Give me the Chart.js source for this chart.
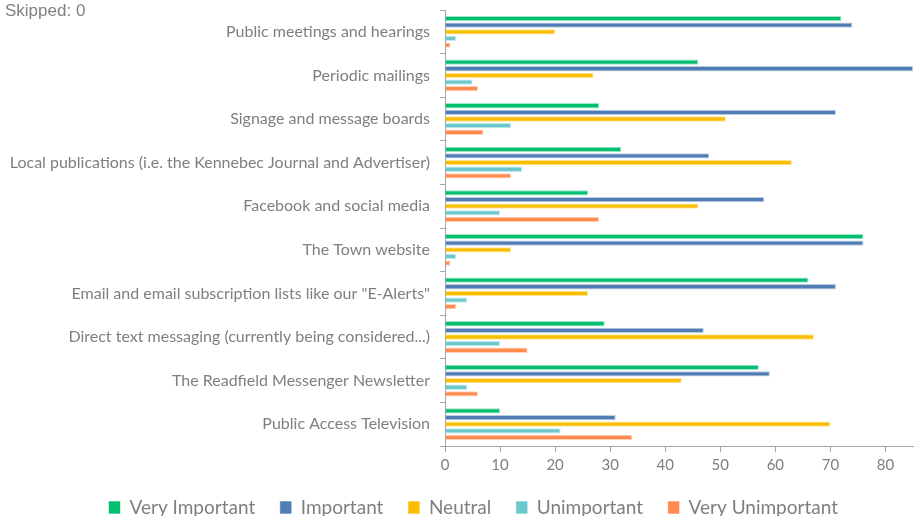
<!DOCTYPE html>
<html>
<head>
<meta charset="utf-8">
<script src="https://cdn.jsdelivr.net/npm/chart.js@4"></script>
<style>
  html, body { margin: 0; padding: 0; background: #fff; }
  #wrap { position: relative; width: 915px; height: 520px; }
  #skipped {
    position: absolute; left: 5px; top: 1px;
    font: 17px "Liberation Sans", Arial, sans-serif; color: #808080;
  }
</style>
</head>
<body>
<div id="wrap">
  <canvas id="chart" width="915" height="520"></canvas>
  <div id="skipped">Skipped: 0</div>
</div>
<script>
const categories = [
  'Public meetings and hearings',
  'Periodic mailings',
  'Signage and message boards',
  'Local publications (i.e. the Kennebec Journal and Advertiser)',
  'Facebook and social media',
  'The Town website',
  'Email and email subscription lists like our "E-Alerts"',
  'Direct text messaging (currently being considered...)',
  'The Readfield Messenger Newsletter',
  'Public Access Television'
];

const veryImportant   = [72, 46, 28, 32, 26, 76, 66, 29, 57, 10];
const important       = [74, 85, 71, 48, 58, 76, 71, 47, 59, 31];
const neutral         = [20, 27, 51, 63, 46, 12, 26, 67, 43, 70];
const unimportant     = [2, 5, 12, 14, 10, 2, 4, 10, 4, 21];
const veryUnimportant = [1, 6, 7, 12, 28, 1, 2, 15, 6, 34];

const seriesNames = ['Very Important', 'Important', 'Neutral', 'Unimportant', 'Very Unimportant'];
const seriesColors = ['#00bf6f', '#507cb6', '#f9be00', '#6bc8cd', '#ff8b4f'];
const xTicks = [0, 10, 20, 30, 40, 50, 60, 70, 80];

const allSeries = [veryImportant, important, neutral, unimportant, veryUnimportant];
const axisGray = '#a6a6a6';
const textGray = '#7f7f7f';
const fontFamily = 'Lato, "Liberation Sans", sans-serif';

// nudge the legend a bit right and up after layout
const legendShift = {
  id: 'legendShift',
  afterLayout(chart) {
    const lg = chart.legend;
    if (!lg) return;
    lg.left += 17; lg.right += 17;
    lg.top -= 4; lg.bottom -= 4;
  }
};

new Chart(document.getElementById('chart'), {
  type: 'bar',
  data: {
    labels: categories,
    datasets: allSeries.map((vals, i) => ({
      label: seriesNames[i],
      data: vals,
      backgroundColor: seriesColors[i],
      borderColor: seriesColors[i] + '66',
      borderWidth: 1,
      categoryPercentage: 0.76,
      barPercentage: 0.8
    }))
  },
  options: {
    indexAxis: 'y',
    responsive: false,
    animation: false,
    layout: { padding: { top: 10, right: 2, left: 0, bottom: 0 } },
    scales: {
      x: {
        min: 0,
        max: 85,
        afterBuildTicks: (scale) => { scale.ticks = xTicks.map(v => ({ value: v })); },
        grid: { drawOnChartArea: false, color: axisGray, tickLength: 6, lineWidth: 1 },
        border: { color: axisGray, width: 1 },
        ticks: { color: textGray, font: { family: fontFamily, size: 15 }, padding: 4 },
        afterFit: (scale) => { scale.height = 31; }
      },
      y: {
        grid: { drawOnChartArea: false, color: axisGray, tickLength: 5, lineWidth: 1, offset: true },
        border: { color: axisGray, width: 1 },
        ticks: { color: textGray, font: { family: fontFamily, size: 16 }, padding: 10, autoSkip: false },
        afterFit: (scale) => {
          scale.width = 445;
          scale.paddingTop = 0;
          scale.paddingBottom = 0;
        }
      }
    },
    plugins: {
      legend: {
        position: 'bottom',
        maxHeight: 43,
        labels: {
          color: textGray,
          boxWidth: 11,
          boxHeight: 12,
          padding: 25,
          font: { family: fontFamily, size: 19 }
        }
      },
      tooltip: { enabled: false }
    }
  },
  plugins: [legendShift]
});
</script>
</body>
</html>
